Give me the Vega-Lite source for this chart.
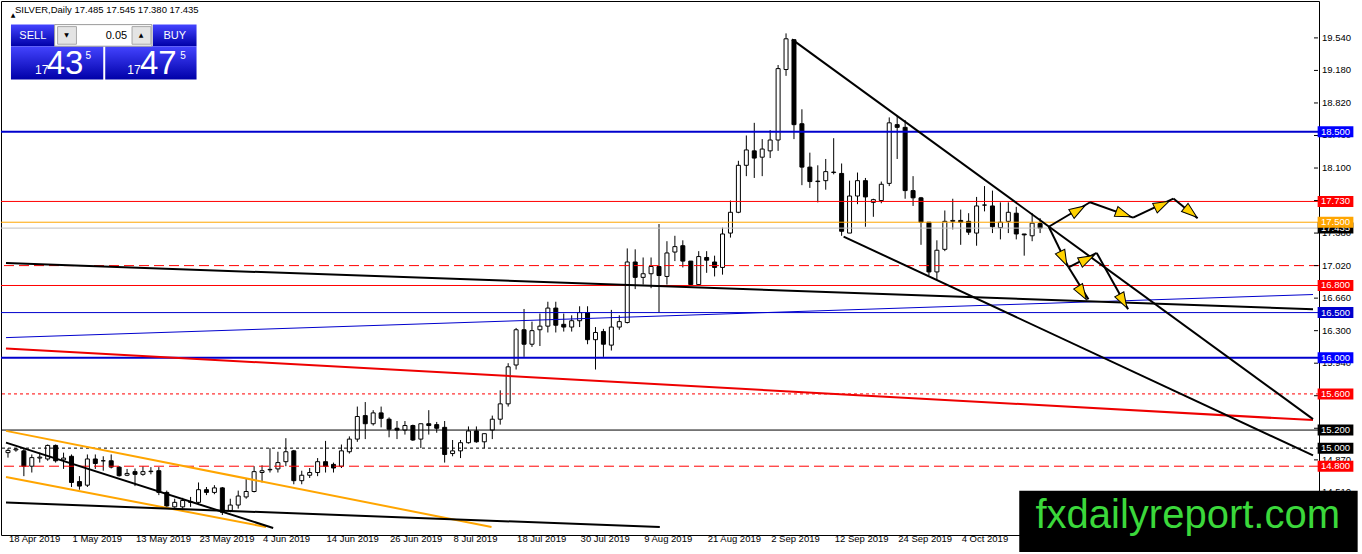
{
  "$schema": "https://vega.github.io/schema/vega-lite/v6.json",
  "width": 1318,
  "height": 534,
  "autosize": "none",
  "padding": {"left": 1, "top": 1, "right": 43, "bottom": 19},
  "background": "white",
  "config": {
    "view": {"stroke": "black", "strokeWidth": 1},
    "axis": {"grid": false, "labelOverlap": false, "title": null}
  },
  "title": {
    "text": "SILVER,Daily  17.485 17.545 17.380 17.435",
    "anchor": "start",
    "frame": "group",
    "offset": -13,
    "dx": 14,
    "font": "Liberation Sans",
    "fontSize": 9.5,
    "fontWeight": "normal",
    "color": "black"
  },
  "datasets": {
    "candles": [
      {"i":0,"o":14.95,"h":15.00,"l":14.895,"c":14.975},
      {"i":1,"o":14.98,"h":15.00,"l":14.96,"c":14.99},
      {"i":2,"o":14.97,"h":14.99,"l":14.69,"c":14.80},
      {"i":3,"o":14.80,"h":14.93,"l":14.73,"c":14.895},
      {"i":4,"o":14.89,"h":14.95,"l":14.84,"c":14.90},
      {"i":5,"o":14.88,"h":15.04,"l":14.86,"c":15.03},
      {"i":6,"o":15.03,"h":15.04,"l":14.84,"c":14.86},
      {"i":7,"o":14.87,"h":14.95,"l":14.77,"c":14.89},
      {"i":8,"o":14.91,"h":14.93,"l":14.57,"c":14.62},
      {"i":9,"o":14.63,"h":14.69,"l":14.54,"c":14.58},
      {"i":10,"o":14.59,"h":14.93,"l":14.57,"c":14.88},
      {"i":11,"o":14.88,"h":14.93,"l":14.77,"c":14.83},
      {"i":12,"o":14.86,"h":14.91,"l":14.75,"c":14.86},
      {"i":13,"o":14.86,"h":14.93,"l":14.775,"c":14.79},
      {"i":14,"o":14.79,"h":14.80,"l":14.685,"c":14.695},
      {"i":15,"o":14.70,"h":14.77,"l":14.69,"c":14.72},
      {"i":16,"o":14.74,"h":14.775,"l":14.58,"c":14.71},
      {"i":17,"o":14.71,"h":14.80,"l":14.695,"c":14.74},
      {"i":18,"o":14.74,"h":14.79,"l":14.71,"c":14.745},
      {"i":19,"o":14.75,"h":14.79,"l":14.48,"c":14.51},
      {"i":20,"o":14.51,"h":14.53,"l":14.35,"c":14.36},
      {"i":21,"o":14.35,"h":14.44,"l":14.34,"c":14.40},
      {"i":22,"o":14.35,"h":14.45,"l":14.33,"c":14.42},
      {"i":23,"o":14.40,"h":14.46,"l":14.35,"c":14.405},
      {"i":24,"o":14.40,"h":14.62,"l":14.37,"c":14.54},
      {"i":25,"o":14.54,"h":14.57,"l":14.48,"c":14.51},
      {"i":26,"o":14.51,"h":14.59,"l":14.49,"c":14.56},
      {"i":27,"o":14.56,"h":14.57,"l":14.26,"c":14.29},
      {"i":28,"o":14.31,"h":14.44,"l":14.29,"c":14.37},
      {"i":29,"o":14.37,"h":14.53,"l":14.33,"c":14.47},
      {"i":30,"o":14.46,"h":14.66,"l":14.44,"c":14.52},
      {"i":31,"o":14.52,"h":14.80,"l":14.51,"c":14.74},
      {"i":32,"o":14.73,"h":14.81,"l":14.62,"c":14.75},
      {"i":33,"o":14.76,"h":15.00,"l":14.73,"c":14.765},
      {"i":34,"o":14.77,"h":14.96,"l":14.73,"c":14.84},
      {"i":35,"o":14.85,"h":15.11,"l":14.80,"c":14.96},
      {"i":36,"o":14.97,"h":14.98,"l":14.60,"c":14.64},
      {"i":37,"o":14.64,"h":14.75,"l":14.60,"c":14.70},
      {"i":38,"o":14.70,"h":14.78,"l":14.67,"c":14.73},
      {"i":39,"o":14.73,"h":14.89,"l":14.69,"c":14.85},
      {"i":40,"o":14.85,"h":15.08,"l":14.73,"c":14.80},
      {"i":41,"o":14.82,"h":14.84,"l":14.73,"c":14.78},
      {"i":42,"o":14.80,"h":15.04,"l":14.78,"c":14.97},
      {"i":43,"o":14.96,"h":15.13,"l":14.94,"c":15.10},
      {"i":44,"o":15.10,"h":15.46,"l":15.07,"c":15.35},
      {"i":45,"o":15.36,"h":15.51,"l":15.10,"c":15.27},
      {"i":46,"o":15.27,"h":15.42,"l":15.25,"c":15.39},
      {"i":47,"o":15.39,"h":15.46,"l":15.23,"c":15.33},
      {"i":48,"o":15.32,"h":15.34,"l":15.12,"c":15.21},
      {"i":49,"o":15.22,"h":15.30,"l":15.10,"c":15.20},
      {"i":50,"o":15.20,"h":15.30,"l":15.15,"c":15.25},
      {"i":51,"o":15.25,"h":15.26,"l":15.08,"c":15.09},
      {"i":52,"o":15.10,"h":15.27,"l":15.00,"c":15.27},
      {"i":53,"o":15.27,"h":15.42,"l":15.15,"c":15.25},
      {"i":54,"o":15.26,"h":15.29,"l":15.17,"c":15.22},
      {"i":55,"o":15.23,"h":15.30,"l":14.84,"c":14.93},
      {"i":56,"o":14.94,"h":15.09,"l":14.91,"c":14.97},
      {"i":57,"o":14.97,"h":15.09,"l":14.89,"c":15.06},
      {"i":58,"o":15.06,"h":15.24,"l":15.05,"c":15.19},
      {"i":59,"o":15.19,"h":15.24,"l":15.06,"c":15.07},
      {"i":60,"o":15.07,"h":15.16,"l":15.00,"c":15.16},
      {"i":61,"o":15.20,"h":15.36,"l":15.10,"c":15.32},
      {"i":62,"o":15.32,"h":15.64,"l":15.26,"c":15.49},
      {"i":63,"o":15.49,"h":15.94,"l":15.46,"c":15.90},
      {"i":64,"o":15.92,"h":16.33,"l":15.87,"c":16.31},
      {"i":65,"o":16.31,"h":16.54,"l":16.01,"c":16.15},
      {"i":66,"o":16.15,"h":16.40,"l":16.12,"c":16.30},
      {"i":67,"o":16.31,"h":16.49,"l":16.13,"c":16.35},
      {"i":68,"o":16.35,"h":16.62,"l":16.28,"c":16.55},
      {"i":69,"o":16.55,"h":16.62,"l":16.28,"c":16.36},
      {"i":70,"o":16.37,"h":16.49,"l":16.29,"c":16.34},
      {"i":71,"o":16.34,"h":16.47,"l":16.29,"c":16.41},
      {"i":72,"o":16.41,"h":16.57,"l":16.34,"c":16.50},
      {"i":73,"o":16.50,"h":16.57,"l":16.15,"c":16.20},
      {"i":74,"o":16.20,"h":16.34,"l":15.87,"c":16.28},
      {"i":75,"o":16.29,"h":16.32,"l":16.01,"c":16.15},
      {"i":76,"o":16.14,"h":16.53,"l":16.08,"c":16.34},
      {"i":77,"o":16.34,"h":16.47,"l":16.31,"c":16.40},
      {"i":78,"o":16.39,"h":17.21,"l":16.38,"c":17.06},
      {"i":79,"o":17.06,"h":17.20,"l":16.76,"c":16.89},
      {"i":80,"o":16.89,"h":17.11,"l":16.81,"c":16.93},
      {"i":81,"o":16.93,"h":17.11,"l":16.77,"c":17.01},
      {"i":82,"o":17.01,"h":17.48,"l":16.50,"c":16.91},
      {"i":83,"o":16.90,"h":17.29,"l":16.81,"c":17.16},
      {"i":84,"o":17.17,"h":17.35,"l":17.07,"c":17.23},
      {"i":85,"o":17.24,"h":17.30,"l":17.00,"c":17.07},
      {"i":86,"o":17.07,"h":17.07,"l":16.80,"c":16.81},
      {"i":87,"o":16.81,"h":17.18,"l":16.80,"c":17.12},
      {"i":88,"o":17.11,"h":17.18,"l":16.94,"c":17.08},
      {"i":89,"o":17.06,"h":17.13,"l":16.90,"c":17.00},
      {"i":90,"o":17.00,"h":17.44,"l":16.92,"c":17.37},
      {"i":91,"o":17.38,"h":17.74,"l":17.33,"c":17.61},
      {"i":92,"o":17.61,"h":18.18,"l":17.60,"c":18.13},
      {"i":93,"o":18.13,"h":18.46,"l":18.01,"c":18.30},
      {"i":94,"o":18.29,"h":18.60,"l":17.99,"c":18.21},
      {"i":95,"o":18.22,"h":18.42,"l":18.01,"c":18.31},
      {"i":96,"o":18.29,"h":18.52,"l":18.21,"c":18.41},
      {"i":97,"o":18.41,"h":19.24,"l":18.29,"c":19.20},
      {"i":98,"o":19.19,"h":19.59,"l":19.12,"c":19.53},
      {"i":99,"o":19.52,"h":19.52,"l":18.42,"c":18.58},
      {"i":100,"o":18.59,"h":18.75,"l":17.91,"c":18.11},
      {"i":101,"o":18.11,"h":18.27,"l":17.88,"c":17.95},
      {"i":102,"o":17.95,"h":18.13,"l":17.72,"c":17.955},
      {"i":103,"o":17.96,"h":18.20,"l":17.86,"c":18.06},
      {"i":104,"o":18.05,"h":18.43,"l":18.03,"c":18.055},
      {"i":105,"o":18.04,"h":18.15,"l":17.35,"c":17.40},
      {"i":106,"o":17.38,"h":17.96,"l":17.38,"c":17.79},
      {"i":107,"o":17.79,"h":18.05,"l":17.70,"c":17.96},
      {"i":108,"o":17.96,"h":17.99,"l":17.45,"c":17.78},
      {"i":109,"o":17.72,"h":17.76,"l":17.56,"c":17.75},
      {"i":110,"o":17.74,"h":17.95,"l":17.71,"c":17.92},
      {"i":111,"o":17.93,"h":18.66,"l":17.90,"c":18.60},
      {"i":112,"o":18.58,"h":18.68,"l":18.20,"c":18.55},
      {"i":113,"o":18.55,"h":18.63,"l":17.76,"c":17.85},
      {"i":114,"o":17.85,"h":18.01,"l":17.68,"c":17.77},
      {"i":115,"o":17.77,"h":17.78,"l":17.25,"c":17.50},
      {"i":116,"o":17.50,"h":17.50,"l":16.91,"c":16.95},
      {"i":117,"o":16.95,"h":17.30,"l":16.86,"c":17.19},
      {"i":118,"o":17.20,"h":17.63,"l":17.18,"c":17.51},
      {"i":119,"o":17.51,"h":17.76,"l":17.42,"c":17.52},
      {"i":120,"o":17.52,"h":17.64,"l":17.25,"c":17.50},
      {"i":121,"o":17.51,"h":17.60,"l":17.36,"c":17.39},
      {"i":122,"o":17.38,"h":17.78,"l":17.24,"c":17.68},
      {"i":123,"o":17.69,"h":17.90,"l":17.62,"c":17.69},
      {"i":124,"o":17.68,"h":17.85,"l":17.38,"c":17.45},
      {"i":125,"o":17.44,"h":17.72,"l":17.31,"c":17.50},
      {"i":126,"o":17.51,"h":17.72,"l":17.38,"c":17.61},
      {"i":127,"o":17.60,"h":17.67,"l":17.31,"c":17.37},
      {"i":128,"o":17.37,"h":17.37,"l":17.13,"c":17.36},
      {"i":129,"o":17.35,"h":17.60,"l":17.29,"c":17.49},
      {"i":130,"o":17.485,"h":17.545,"l":17.38,"c":17.435}
    ],
    "levels": [
      {"p":18.5,"kind":"blue2"},
      {"p":17.73,"kind":"red1"},
      {"p":17.5,"kind":"orange1"},
      {"p":17.435,"kind":"gray1"},
      {"p":17.02,"kind":"redDash"},
      {"p":16.8,"kind":"red1"},
      {"p":16.5,"kind":"blue1"},
      {"p":16.0,"kind":"blue2"},
      {"p":15.6,"kind":"redDot"},
      {"p":15.2,"kind":"black1"},
      {"p":15.0,"kind":"blackDot"},
      {"p":14.8,"kind":"redDash"}
    ],
    "tags": [
      {"p":17.435,"kind":"black1"},
      {"p":18.5,"kind":"blue2"},
      {"p":17.73,"kind":"red1"},
      {"p":17.5,"kind":"orange1"},
      {"p":16.8,"kind":"red1"},
      {"p":16.5,"kind":"blue1"},
      {"p":16.0,"kind":"blue2"},
      {"p":15.6,"kind":"red1"},
      {"p":15.2,"kind":"black1"},
      {"p":15.0,"kind":"black1"},
      {"p":14.8,"kind":"red1"}
    ],
    "yticks": [
      {"p":19.54},{"p":19.18},{"p":18.82},{"p":18.46},{"p":18.1},{"p":17.74},{"p":17.38},{"p":17.02},
      {"p":16.66},{"p":16.3},{"p":15.94},{"p":15.58},{"p":15.22},{"p":14.87},{"p":14.51},{"p":14.15}
    ],
    "trends": [
      {"x":-0.25,"y":17.048,"x2":164.375,"y2":16.538,"kind":"black2"},
      {"x":-0.25,"y":16.223,"x2":164.375,"y2":16.700,"kind":"blue1"},
      {"x":-0.25,"y":16.103,"x2":164.375,"y2":15.310,"kind":"red2"},
      {"x":-0.25,"y":15.191,"x2":60.9,"y2":14.127,"kind":"orange2"},
      {"x":-0.25,"y":14.681,"x2":32.5,"y2":14.127,"kind":"orange2"},
      {"x":-0.25,"y":15.061,"x2":33.4,"y2":14.116,"kind":"black2"},
      {"x":-0.25,"y":14.398,"x2":82.1,"y2":14.127,"kind":"black2"},
      {"x":98.75,"y":19.524,"x2":164.375,"y2":15.321,"kind":"black2"},
      {"x":105.25,"y":17.341,"x2":164.375,"y2":14.919,"kind":"black2"},
      {"x":131.09,"y":17.450,"x2":136.29,"y2":17.721,"kind":"black2"},
      {"x":136.29,"y":17.721,"x2":141.71,"y2":17.551,"kind":"black2"},
      {"x":141.71,"y":17.551,"x2":146.79,"y2":17.762,"kind":"black2"},
      {"x":146.79,"y":17.762,"x2":149.84,"y2":17.544,"kind":"black2"},
      {"x":131.09,"y":17.450,"x2":133.59,"y2":17.001,"kind":"black2"},
      {"x":133.59,"y":17.001,"x2":137.13,"y2":17.160,"kind":"black2"},
      {"x":137.13,"y":17.160,"x2":141.09,"y2":16.538,"kind":"black2"},
      {"x":133.59,"y":17.001,"x2":136.09,"y2":16.646,"kind":"black2"}
    ],
    "heads": [
      {"x":134.7,"y":17.631,"heading":59},
      {"x":140.4,"y":17.594,"heading":110},
      {"x":145.25,"y":17.689,"heading":64},
      {"x":148.9,"y":17.616,"heading":129},
      {"x":132.9,"y":17.106,"heading":154},
      {"x":135.8,"y":17.088,"heading":63},
      {"x":140.4,"y":16.635,"heading":151},
      {"x":135.25,"y":16.725,"heading":148}
    ],
    "dates": [
      {"i":0,"label":"18 Apr 2019"},
      {"i":8,"label":"1 May 2019"},
      {"i":16,"label":"13 May 2019"},
      {"i":24,"label":"23 May 2019"},
      {"i":32,"label":"4 Jun 2019"},
      {"i":40,"label":"14 Jun 2019"},
      {"i":48,"label":"26 Jun 2019"},
      {"i":56,"label":"8 Jul 2019"},
      {"i":64,"label":"18 Jul 2019"},
      {"i":72,"label":"30 Jul 2019"},
      {"i":80,"label":"9 Aug 2019"},
      {"i":88,"label":"21 Aug 2019"},
      {"i":96,"label":"2 Sep 2019"},
      {"i":104,"label":"12 Sep 2019"},
      {"i":112,"label":"24 Sep 2019"},
      {"i":120,"label":"4 Oct 2019"}
    ],
    "panel": [
      {"part":"blue","x":0.375,"x2":5.875,"y":19.687,"y2":19.448},
      {"part":"blue","x":0.375,"x2":12.0,"y":19.448,"y2":19.079},
      {"part":"blue","x":18.25,"x2":23.75,"y":19.687,"y2":19.448},
      {"part":"blue","x":12.25,"x2":23.75,"y":19.448,"y2":19.079},
      {"part":"box","x":5.875,"x2":18.125,"y":19.687,"y2":19.448},
      {"part":"btn","x":6.25,"x2":8.625,"y":19.665,"y2":19.470},
      {"part":"btn","x":15.625,"x2":18.0,"y":19.665,"y2":19.470}
    ],
    "panelText": [
      {"t":"▲","role":"tri","x":0.625,"y":19.769},
      {"t":"SELL","role":"btn","x":3.125,"y":19.524},
      {"t":"BUY","role":"btn","x":21.0,"y":19.524},
      {"t":"0.05","role":"val","x":13.66,"y":19.524},
      {"t":"▼","role":"tri","x":7.375,"y":19.547},
      {"t":"▲","role":"tri","x":16.75,"y":19.547},
      {"t":"17","role":"small","x":4.25,"y":19.144},
      {"t":"43","role":"big","x":7.19,"y":19.144},
      {"t":"5","role":"sup","x":10.125,"y":19.307},
      {"t":"17","role":"small","x":15.875,"y":19.144},
      {"t":"47","role":"big","x":18.94,"y":19.144},
      {"t":"5","role":"sup","x":22.06,"y":19.307}
    ],
    "brand": [
      {"t":"fxdailyreport.com","x":127.375,"x2":170.0,"y":14.528,"y2":13.85,"tx":148.6,"ty":14.116}
    ]
  },
  "layer": [
    {
      "data": {"name": "candles"},
      "mark": {"type": "rule", "color": "black", "strokeWidth": 1},
      "encoding": {
        "x": {"field": "i", "type": "quantitative", "title": null, "axis": null,
          "scale": {"domain": [-0.25, 164.5], "nice": false, "zero": false}},
        "y": {"field": "l", "type": "quantitative", "title": null, "axis": null,
          "scale": {"domain": [14.094, 19.893], "nice": false, "zero": false}},
        "y2": {"field": "h"}
      }
    },
    {
      "data": {"name": "candles"},
      "mark": {"type": "bar", "size": 4, "stroke": "black", "strokeWidth": 1},
      "encoding": {
        "x": {"field": "i", "type": "quantitative", "title": null, "scale": {"domain": [-0.25, 164.5], "nice": false, "zero": false}},
        "y": {"field": "o", "type": "quantitative", "title": null, "scale": {"domain": [14.094, 19.893], "nice": false, "zero": false}},
        "y2": {"field": "c"},
        "fill": {"condition": {"test": "datum.c < datum.o", "value": "black"}, "value": "white"}
      }
    },
    {
      "data": {"name": "levels"},
      "transform": [{"filter": "datum.kind == 'red1'"}],
      "mark": {"type": "rule", "strokeWidth": 1, "color": "#FF0000"},
      "encoding": {"y": {"field": "p", "type": "quantitative", "title": null, "scale": {"domain": [14.094, 19.893], "nice": false, "zero": false}}}
    },
    {
      "data": {"name": "levels"},
      "transform": [{"filter": "datum.kind == 'redDash'"}],
      "mark": {"type": "rule", "strokeWidth": 1, "color": "#FF0000", "strokeDash": [10, 5]},
      "encoding": {"y": {"field": "p", "type": "quantitative", "title": null, "scale": {"domain": [14.094, 19.893], "nice": false, "zero": false}}}
    },
    {
      "data": {"name": "levels"},
      "transform": [{"filter": "datum.kind == 'redDot'"}],
      "mark": {"type": "rule", "strokeWidth": 1, "color": "#FF0000", "strokeDash": [3, 3]},
      "encoding": {"y": {"field": "p", "type": "quantitative", "title": null, "scale": {"domain": [14.094, 19.893], "nice": false, "zero": false}}}
    },
    {
      "data": {"name": "levels"},
      "transform": [{"filter": "datum.kind == 'orange1'"}],
      "mark": {"type": "rule", "strokeWidth": 1, "color": "#FFA500"},
      "encoding": {"y": {"field": "p", "type": "quantitative", "title": null, "scale": {"domain": [14.094, 19.893], "nice": false, "zero": false}}}
    },
    {
      "data": {"name": "levels"},
      "transform": [{"filter": "datum.kind == 'gray1'"}],
      "mark": {"type": "rule", "strokeWidth": 1, "color": "#C0C0C0"},
      "encoding": {"y": {"field": "p", "type": "quantitative", "title": null, "scale": {"domain": [14.094, 19.893], "nice": false, "zero": false}}}
    },
    {
      "data": {"name": "levels"},
      "transform": [{"filter": "datum.kind == 'black1'"}],
      "mark": {"type": "rule", "strokeWidth": 1, "color": "#000000"},
      "encoding": {"y": {"field": "p", "type": "quantitative", "title": null, "scale": {"domain": [14.094, 19.893], "nice": false, "zero": false}}}
    },
    {
      "data": {"name": "levels"},
      "transform": [{"filter": "datum.kind == 'blackDot'"}],
      "mark": {"type": "rule", "strokeWidth": 1, "color": "#000000", "strokeDash": [3, 3]},
      "encoding": {"y": {"field": "p", "type": "quantitative", "title": null, "scale": {"domain": [14.094, 19.893], "nice": false, "zero": false}}}
    },
    {
      "data": {"name": "levels"},
      "transform": [{"filter": "datum.kind == 'blue1'"}],
      "mark": {"type": "rule", "strokeWidth": 1, "color": "#0000CD"},
      "encoding": {"y": {"field": "p", "type": "quantitative", "title": null, "scale": {"domain": [14.094, 19.893], "nice": false, "zero": false}}}
    },
    {
      "data": {"name": "levels"},
      "transform": [{"filter": "datum.kind == 'blue2'"}],
      "mark": {"type": "rule", "strokeWidth": 2, "color": "#0000CD"},
      "encoding": {"y": {"field": "p", "type": "quantitative", "title": null, "scale": {"domain": [14.094, 19.893], "nice": false, "zero": false}}}
    },
    {
      "data": {"name": "trends"},
      "transform": [{"filter": "datum.kind == 'blue1'"}],
      "mark": {"type": "rule", "strokeWidth": 1},
      "encoding": {
        "x": {"field": "x", "type": "quantitative", "title": null, "scale": {"domain": [-0.25, 164.5], "nice": false, "zero": false}},
        "x2": {"field": "x2"},
        "y": {"field": "y", "type": "quantitative", "title": null, "scale": {"domain": [14.094, 19.893], "nice": false, "zero": false}},
        "y2": {"field": "y2"},
        "color": {
          "field": "kind", "type": "nominal", "legend": null,
          "scale": {
            "domain": ["blue1","blue2","red1","red2","orange1","orange2","black1","black2"],
            "range": ["#0000CD","#0000FF","#FF0000","#EE0000","#FFA500","#FFA500","#000000","#000000"]
          }
        }
      }
    },
    {
      "data": {"name": "trends"},
      "transform": [{"filter": "datum.kind != 'blue1'"}],
      "mark": {"type": "rule", "strokeWidth": 2},
      "encoding": {
        "x": {"field": "x", "type": "quantitative", "title": null, "scale": {"domain": [-0.25, 164.5], "nice": false, "zero": false}},
        "x2": {"field": "x2"},
        "y": {"field": "y", "type": "quantitative", "title": null, "scale": {"domain": [14.094, 19.893], "nice": false, "zero": false}},
        "y2": {"field": "y2"},
        "color": {"field": "kind", "type": "nominal", "legend": null}
      }
    },
    {
      "data": {"name": "heads"},
      "mark": {
        "type": "point", "shape": "M0,-1L0.6,0.8L-0.6,0.8Z", "size": 300,
        "filled": true, "color": "#FFD200", "stroke": "black", "strokeWidth": 1, "opacity": 1
      },
      "encoding": {
        "x": {"field": "x", "type": "quantitative", "title": null, "scale": {"domain": [-0.25, 164.5], "nice": false, "zero": false}},
        "y": {"field": "y", "type": "quantitative", "title": null, "scale": {"domain": [14.094, 19.893], "nice": false, "zero": false}},
        "angle": {"field": "heading", "type": "quantitative", "scale": {"domain": [0, 360], "range": [0, 360]}}
      }
    },
    {
      "data": {"name": "yticks"},
      "mark": {"type": "rule", "color": "black", "strokeWidth": 1},
      "encoding": {
        "y": {"field": "p", "type": "quantitative", "title": null, "scale": {"domain": [14.094, 19.893], "nice": false, "zero": false}},
        "x": {"datum": 164.5, "type": "quantitative", "title": null, "scale": {"domain": [-0.25, 164.5], "nice": false, "zero": false}},
        "x2": {"datum": 165.0}
      }
    },
    {
      "data": {"name": "yticks"},
      "mark": {"type": "text", "color": "black", "font": "Liberation Sans", "fontSize": 9.5, "align": "left", "baseline": "middle", "dx": 8},
      "encoding": {
        "y": {"field": "p", "type": "quantitative", "title": null, "scale": {"domain": [14.094, 19.893], "nice": false, "zero": false}},
        "x": {"datum": 164.5, "type": "quantitative", "title": null, "scale": {"domain": [-0.25, 164.5], "nice": false, "zero": false}},
        "text": {"field": "p", "type": "quantitative", "format": ".3f"}
      }
    },
    {
      "data": {"name": "tags"},
      "transform": [{"filter": "datum.p == 17.435"}],
      "mark": {"type": "bar", "orient": "horizontal", "size": 11, "color": "#000000"},
      "encoding": {
        "y": {"field": "p", "type": "quantitative", "title": null, "scale": {"domain": [14.094, 19.893], "nice": false, "zero": false}},
        "x": {"datum": 164.96, "type": "quantitative", "title": null, "scale": {"domain": [-0.25, 164.5], "nice": false, "zero": false}},
        "x2": {"datum": 169.46}
      }
    },
    {
      "data": {"name": "tags"},
      "transform": [{"filter": "datum.p == 17.435"}],
      "mark": {"type": "text", "color": "white", "font": "Liberation Sans", "fontSize": 9.5, "align": "center", "baseline": "middle"},
      "encoding": {
        "y": {"field": "p", "type": "quantitative", "title": null, "scale": {"domain": [14.094, 19.893], "nice": false, "zero": false}},
        "x": {"datum": 167.21, "type": "quantitative", "title": null, "scale": {"domain": [-0.25, 164.5], "nice": false, "zero": false}},
        "text": {"field": "p", "type": "quantitative", "format": ".3f"}
      }
    },
    {
      "data": {"name": "tags"},
      "transform": [{"filter": "datum.p != 17.435"}],
      "mark": {"type": "bar", "orient": "horizontal", "size": 11},
      "encoding": {
        "y": {"field": "p", "type": "quantitative", "title": null, "scale": {"domain": [14.094, 19.893], "nice": false, "zero": false}},
        "x": {"datum": 164.96, "type": "quantitative", "title": null, "scale": {"domain": [-0.25, 164.5], "nice": false, "zero": false}},
        "x2": {"datum": 169.46},
        "color": {"field": "kind", "type": "nominal", "legend": null}
      }
    },
    {
      "data": {"name": "tags"},
      "transform": [{"filter": "datum.p != 17.435"}],
      "mark": {"type": "text", "color": "white", "font": "Liberation Sans", "fontSize": 9.5, "align": "center", "baseline": "middle"},
      "encoding": {
        "y": {"field": "p", "type": "quantitative", "title": null, "scale": {"domain": [14.094, 19.893], "nice": false, "zero": false}},
        "x": {"datum": 167.21, "type": "quantitative", "title": null, "scale": {"domain": [-0.25, 164.5], "nice": false, "zero": false}},
        "text": {"field": "p", "type": "quantitative", "format": ".3f"}
      }
    },
    {
      "data": {"name": "dates"},
      "mark": {"type": "text", "color": "black", "font": "Liberation Sans", "fontSize": 9.5, "align": "left", "baseline": "middle", "dx": 1, "dy": 9},
      "encoding": {
        "x": {"field": "i", "type": "quantitative", "title": null, "scale": {"domain": [-0.25, 164.5], "nice": false, "zero": false}},
        "y": {"datum": 14.094, "type": "quantitative", "title": null, "scale": {"domain": [14.094, 19.893], "nice": false, "zero": false}},
        "text": {"field": "label", "type": "nominal"}
      }
    },
    {
      "data": {"name": "panel"},
      "transform": [{"filter": "datum.part == 'blue'"}],
      "mark": {
        "type": "rect",
        "color": {"gradient": "linear", "x1": 0, "y1": 0, "x2": 0, "y2": 1,
          "stops": [{"offset": 0, "color": "#4444ff"}, {"offset": 1, "color": "#0000a8"}]}
      },
      "encoding": {
        "x": {"field": "x", "type": "quantitative", "title": null, "scale": {"domain": [-0.25, 164.5], "nice": false, "zero": false}},
        "x2": {"field": "x2"},
        "y": {"field": "y", "type": "quantitative", "title": null, "scale": {"domain": [14.094, 19.893], "nice": false, "zero": false}},
        "y2": {"field": "y2"}
      }
    },
    {
      "data": {"name": "panel"},
      "transform": [{"filter": "datum.part == 'box'"}],
      "mark": {"type": "rect", "color": "white", "stroke": "#9a9a9a", "strokeWidth": 1},
      "encoding": {
        "x": {"field": "x", "type": "quantitative", "title": null, "scale": {"domain": [-0.25, 164.5], "nice": false, "zero": false}},
        "x2": {"field": "x2"},
        "y": {"field": "y", "type": "quantitative", "title": null, "scale": {"domain": [14.094, 19.893], "nice": false, "zero": false}},
        "y2": {"field": "y2"}
      }
    },
    {
      "data": {"name": "panel"},
      "transform": [{"filter": "datum.part == 'btn'"}],
      "mark": {"type": "rect", "color": "#e4e4e4", "stroke": "#a8a8a8", "strokeWidth": 1},
      "encoding": {
        "x": {"field": "x", "type": "quantitative", "title": null, "scale": {"domain": [-0.25, 164.5], "nice": false, "zero": false}},
        "x2": {"field": "x2"},
        "y": {"field": "y", "type": "quantitative", "title": null, "scale": {"domain": [14.094, 19.893], "nice": false, "zero": false}},
        "y2": {"field": "y2"}
      }
    },
    {
      "data": {"name": "panelText"},
      "transform": [{"filter": "datum.role == 'tri'"}],
      "mark": {"type": "text", "font": "DejaVu Sans", "fontSize": 6, "color": "black", "align": "center", "baseline": "alphabetic"},
      "encoding": {
        "x": {"field": "x", "type": "quantitative", "title": null, "scale": {"domain": [-0.25, 164.5], "nice": false, "zero": false}},
        "y": {"field": "y", "type": "quantitative", "title": null, "scale": {"domain": [14.094, 19.893], "nice": false, "zero": false}},
        "text": {"field": "t", "type": "nominal"}
      }
    },
    {
      "data": {"name": "panelText"},
      "transform": [{"filter": "datum.role == 'btn' || datum.role == 'val'"}],
      "mark": {"type": "text", "font": "Liberation Sans", "fontSize": 11, "align": "center", "baseline": "alphabetic"},
      "encoding": {
        "x": {"field": "x", "type": "quantitative", "title": null, "scale": {"domain": [-0.25, 164.5], "nice": false, "zero": false}},
        "y": {"field": "y", "type": "quantitative", "title": null, "scale": {"domain": [14.094, 19.893], "nice": false, "zero": false}},
        "text": {"field": "t", "type": "nominal"},
        "color": {"condition": {"test": "datum.role == 'val'", "value": "black"}, "value": "white"}
      }
    },
    {
      "data": {"name": "panelText"},
      "transform": [{"filter": "datum.role == 'small'"}],
      "mark": {"type": "text", "font": "Liberation Sans", "fontSize": 12, "color": "white", "align": "center", "baseline": "alphabetic"},
      "encoding": {
        "x": {"field": "x", "type": "quantitative", "title": null, "scale": {"domain": [-0.25, 164.5], "nice": false, "zero": false}},
        "y": {"field": "y", "type": "quantitative", "title": null, "scale": {"domain": [14.094, 19.893], "nice": false, "zero": false}},
        "text": {"field": "t", "type": "nominal"}
      }
    },
    {
      "data": {"name": "panelText"},
      "transform": [{"filter": "datum.role == 'big'"}],
      "mark": {"type": "text", "font": "Liberation Sans", "fontSize": 33, "color": "white", "align": "center", "baseline": "alphabetic"},
      "encoding": {
        "x": {"field": "x", "type": "quantitative", "title": null, "scale": {"domain": [-0.25, 164.5], "nice": false, "zero": false}},
        "y": {"field": "y", "type": "quantitative", "title": null, "scale": {"domain": [14.094, 19.893], "nice": false, "zero": false}},
        "text": {"field": "t", "type": "nominal"}
      }
    },
    {
      "data": {"name": "panelText"},
      "transform": [{"filter": "datum.role == 'sup'"}],
      "mark": {"type": "text", "font": "Liberation Sans", "fontSize": 10, "color": "white", "align": "center", "baseline": "alphabetic"},
      "encoding": {
        "x": {"field": "x", "type": "quantitative", "title": null, "scale": {"domain": [-0.25, 164.5], "nice": false, "zero": false}},
        "y": {"field": "y", "type": "quantitative", "title": null, "scale": {"domain": [14.094, 19.893], "nice": false, "zero": false}},
        "text": {"field": "t", "type": "nominal"}
      }
    },
    {
      "data": {"name": "brand"},
      "mark": {"type": "rect", "color": "black"},
      "encoding": {
        "x": {"field": "x", "type": "quantitative", "title": null, "scale": {"domain": [-0.25, 164.5], "nice": false, "zero": false}},
        "x2": {"field": "x2"},
        "y": {"field": "y", "type": "quantitative", "title": null, "scale": {"domain": [14.094, 19.893], "nice": false, "zero": false}},
        "y2": {"field": "y2"}
      }
    },
    {
      "data": {"name": "brand"},
      "mark": {"type": "text", "color": "#3BD83B", "font": "Liberation Sans", "fontSize": 40, "align": "center", "baseline": "alphabetic"},
      "encoding": {
        "x": {"field": "tx", "type": "quantitative", "title": null, "scale": {"domain": [-0.25, 164.5], "nice": false, "zero": false}},
        "y": {"field": "ty", "type": "quantitative", "title": null, "scale": {"domain": [14.094, 19.893], "nice": false, "zero": false}},
        "text": {"field": "t", "type": "nominal"}
      }
    }
  ]
}
